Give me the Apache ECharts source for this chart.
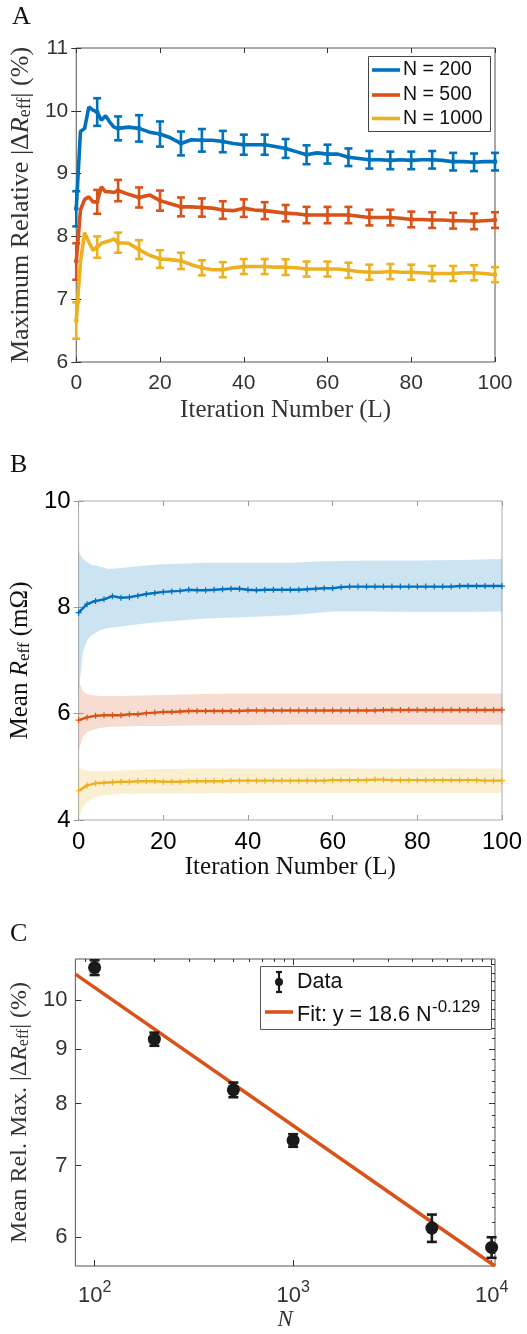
<!DOCTYPE html>
<html><head><meta charset="utf-8">
<script src="https://cdn.jsdelivr.net/npm/echarts@6/dist/echarts.min.js"></script>
<style>html,body{margin:0;padding:0;background:#fff}#c{width:527px;height:1334px}</style>
</head><body><div id="c"></div>
<script>
// ---------------- Panel A data ----------------
const L_A = [0,1,2,3,4,5,6,7,8,9,10,12.5,15,17.5,20,22.5,25,27.5,30,32.5,35,37.5,40,42.5,45,47.5,50,52.5,55,57.5,60,62.5,65,67.5,70,72.5,75,77.5,80,82.5,85,87.5,90,92.5,95,97.5,100];
const A_N200 = [8.44,9.67,9.72,10.06,10.01,9.98,9.85,9.92,9.82,9.74,9.72,9.74,9.72,9.66,9.63,9.57,9.48,9.54,9.53,9.53,9.51,9.48,9.46,9.46,9.46,9.43,9.40,9.35,9.30,9.33,9.31,9.31,9.26,9.24,9.22,9.22,9.21,9.22,9.21,9.22,9.22,9.21,9.19,9.19,9.18,9.19,9.19];
const A_N500 = [7.60,8.42,8.59,8.63,8.55,8.55,8.79,8.71,8.71,8.70,8.73,8.67,8.62,8.66,8.57,8.52,8.47,8.47,8.46,8.45,8.42,8.41,8.45,8.42,8.41,8.39,8.37,8.36,8.34,8.34,8.34,8.34,8.34,8.32,8.30,8.30,8.30,8.29,8.27,8.27,8.26,8.26,8.25,8.25,8.24,8.25,8.26];
const A_N1000 = [6.66,7.60,8.06,7.91,7.78,7.83,7.89,7.91,7.93,7.96,7.90,7.89,7.79,7.70,7.64,7.63,7.61,7.55,7.50,7.47,7.47,7.50,7.52,7.52,7.52,7.51,7.51,7.50,7.48,7.48,7.48,7.48,7.46,7.44,7.43,7.43,7.44,7.43,7.43,7.42,7.41,7.41,7.41,7.42,7.42,7.41,7.39];
const ERR_L_A = [0,5,10,15,20,25,30,35,40,45,50,55,60,65,70,75,80,85,90,95,100];
const E_N200 = [0.28,0.22,0.19,0.21,0.20,0.19,0.18,0.17,0.16,0.16,0.15,0.15,0.15,0.14,0.14,0.14,0.14,0.14,0.14,0.14,0.14];
const E_N500 = [0.29,0.19,0.17,0.16,0.16,0.15,0.145,0.14,0.14,0.135,0.13,0.13,0.13,0.13,0.125,0.125,0.125,0.125,0.125,0.125,0.125];
const E_N1000 = [0.29,0.17,0.16,0.15,0.14,0.13,0.12,0.12,0.12,0.12,0.125,0.12,0.12,0.12,0.12,0.12,0.12,0.12,0.12,0.12,0.12];
const A_NAMES = ['N = 200','N = 500','N = 1000'];

// ---------------- Panel B data ----------------
const L_B = [0,2,4,6,8,10,12,14,16,18,20,22,24,26,28,30,32,34,36,38,40,42,44,46,48,50,52,54,56,58,60,62,64,66,68,70,72,74,76,78,80,82,84,86,88,90,92,94,96,98,100];
const B_N200 = [7.90,8.06,8.12,8.15,8.21,8.18,8.19,8.22,8.25,8.27,8.29,8.30,8.31,8.33,8.32,8.32,8.33,8.34,8.35,8.35,8.33,8.32,8.33,8.33,8.33,8.33,8.33,8.34,8.35,8.36,8.36,8.38,8.39,8.39,8.39,8.39,8.39,8.39,8.39,8.39,8.39,8.39,8.39,8.39,8.39,8.40,8.40,8.40,8.40,8.40,8.40];
const B_N500 = [5.88,5.93,5.96,5.97,5.97,5.97,5.99,5.99,6.01,6.02,6.03,6.03,6.04,6.05,6.05,6.05,6.05,6.05,6.05,6.05,6.06,6.06,6.06,6.06,6.06,6.06,6.06,6.06,6.06,6.06,6.06,6.06,6.06,6.06,6.06,6.06,6.07,6.07,6.07,6.07,6.07,6.07,6.07,6.07,6.07,6.07,6.07,6.07,6.07,6.07,6.07];
const B_N1000 = [4.55,4.65,4.69,4.70,4.71,4.72,4.72,4.73,4.73,4.73,4.72,4.72,4.72,4.73,4.73,4.73,4.73,4.73,4.74,4.74,4.74,4.74,4.74,4.74,4.74,4.74,4.74,4.74,4.74,4.74,4.75,4.75,4.75,4.75,4.75,4.76,4.76,4.75,4.75,4.75,4.75,4.75,4.75,4.75,4.75,4.75,4.75,4.75,4.74,4.74,4.74];
const L_BAND = [0,1,2,3,5,7,10,15,20,30,40,50,60,70,80,90,100];
const B_N200_UP = [9.05,8.92,8.85,8.80,8.77,8.72,8.74,8.78,8.81,8.84,8.84,8.84,8.87,8.88,8.88,8.89,8.91];
const B_N200_LO = [6.40,7.15,7.38,7.47,7.57,7.61,7.64,7.69,7.73,7.79,7.82,7.85,7.92,7.92,7.91,7.91,7.92];
const B_N500_UP = [6.62,6.42,6.37,6.35,6.33,6.33,6.33,6.34,6.35,6.37,6.38,6.38,6.38,6.38,6.38,6.38,6.38];
const B_N500_LO = [5.30,5.57,5.65,5.69,5.73,5.75,5.76,5.77,5.77,5.78,5.78,5.79,5.79,5.79,5.79,5.79,5.79];
const B_N1000_UP = [5.00,4.95,4.93,4.92,4.92,4.92,4.93,4.95,4.96,4.97,4.97,4.97,4.97,4.97,4.97,4.97,4.97];
const B_N1000_LO = [4.05,4.24,4.33,4.39,4.45,4.47,4.49,4.50,4.50,4.50,4.51,4.51,4.51,4.51,4.51,4.51,4.51];

// ---------------- Panel C data ----------------
const C_N = [100,200,500,1000,5000,10000];
const C_MEAN = [10.72,9.19,8.24,7.39,6.12,5.87];
const C_ERR = [0.17,0.13,0.13,0.10,0.18,0.13];
const FIT_N = [80,10400];
const FIT_Y = [10.57,5.64];
const C_XMAJ = [100,1000,10000];
const C_XMIN = [90,200,300,400,500,600,700,800,900,2000,3000,4000,5000,6000,7000,8000,9000];
const C_YMAJ = [6,7,8,9,10];
const C_YMIN = [5.8,6.2,6.4,6.6,6.8,7.2,7.4,7.6,7.8,8.2,8.4,8.6,8.8,9.2,9.4,9.6,9.8,10.2,10.4,10.6,10.8];

// ---------------- styling ----------------
const COLORS = ['#0072BD','#D95319','#EDB120'];
const BAND_COLORS = ['rgba(0,114,189,0.2)','rgba(217,83,25,0.2)','rgba(237,177,32,0.2)'];
const SANS = 'Liberation Sans';
const SERIF = 'Liberation Serif';
const AXC = '#333';

function richName(size, color){
  return {
    fontFamily: SERIF, fontSize: size, color: color,
    rich: {
      t: {fontFamily: SERIF, fontSize: size, color: color},
      it: {fontFamily: SERIF, fontSize: size, fontStyle: 'italic', color: color},
      sub: {fontFamily: SERIF, fontSize: Math.round(size*0.68), color: color, verticalAlign: 'bottom'}
    }
  };
}

function valAxis(o){
  const base = {
    type: 'value', axisLine: {show: false}, splitLine: {show: false},
    axisTick: {show: true, inside: true, length: o.tickLen || 5, lineStyle: {color: o.tickColor || AXC, width: 1}},
    axisLabel: {show: !!o.labels, fontFamily: SANS, fontSize: o.fontSize || 21, color: o.labelColor || AXC, margin: o.margin || 10}
  };
  return Object.assign(base, o.extra || {});
}

function errRender(color, capHalf, lw, dotR){
  return function(params, api){
    const x = api.value(0), y = api.value(1), lo = api.value(2), hi = api.value(3);
    const p = api.coord([x, y]), a = api.coord([x, lo]), b = api.coord([x, hi]);
    const ch = [
      {type:'line', shape:{x1:a[0], y1:a[1], x2:b[0], y2:b[1]}, style:{stroke:color, lineWidth:lw}},
      {type:'line', shape:{x1:a[0]-capHalf, y1:a[1], x2:a[0]+capHalf, y2:a[1]}, style:{stroke:color, lineWidth:lw}},
      {type:'line', shape:{x1:b[0]-capHalf, y1:b[1], x2:b[0]+capHalf, y2:b[1]}, style:{stroke:color, lineWidth:lw}}
    ];
    if (dotR) ch.push({type:'circle', shape:{cx:p[0], cy:p[1], r:dotR}, style:{fill:color}});
    return {type:'group', children: ch};
  };
}

function bandRender(Ls, up, lo, color){
  return function(params, api){
    const pts = [];
    for (let i = 0; i < Ls.length; i++) pts.push(api.coord([Ls[i], up[i]]));
    for (let i = Ls.length - 1; i >= 0; i--) pts.push(api.coord([Ls[i], lo[i]]));
    return {type:'polygon', shape:{points: pts}, style:{fill: color}};
  };
}

const series = [];
// Panel A
const A_SETS = [A_N200, A_N500, A_N1000];
const A_ERRS = [E_N200, E_N500, E_N1000];
A_SETS.forEach(function(vals, k){
  series.push({type:'line', name:A_NAMES[k], xAxisIndex:0, yAxisIndex:0, data: L_A.map(function(L,i){return [L, vals[i]];}),
    showSymbol:false, lineStyle:{color:COLORS[k], width:3.6}, itemStyle:{color:COLORS[k]}, z: 3 + k});
  const ed = ERR_L_A.map(function(L, i){ const v = vals[L_A.indexOf(L)]; return [L, v, v - A_ERRS[k][i], v + A_ERRS[k][i]]; });
  series.push({type:'custom', xAxisIndex:0, yAxisIndex:0, data: ed, encode:{x:0, y:[1,2,3]}, renderItem: errRender(COLORS[k], 4, 2.6, 2.4), z: 3 + k});
});
// Panel B
const B_SETS = [B_N200, B_N500, B_N1000];
const B_UPS = [B_N200_UP, B_N500_UP, B_N1000_UP];
const B_LOS = [B_N200_LO, B_N500_LO, B_N1000_LO];
B_SETS.forEach(function(vals, k){
  series.push({type:'custom', xAxisIndex:2, yAxisIndex:2, data:[[L_BAND[0], B_UPS[k][0]]], encode:{x:0,y:1},
    renderItem: bandRender(L_BAND, B_UPS[k], B_LOS[k], BAND_COLORS[k]), z: 1, silent: true});
});
B_SETS.forEach(function(vals, k){
  series.push({type:'line', xAxisIndex:2, yAxisIndex:2, data: L_B.map(function(L,i){return [L, vals[i]];}),
    symbol:'path://M4,0h2v10h-2z M0,4h10v2h-10z', symbolSize:6, showSymbol:true,
    lineStyle:{color:COLORS[k], width:2.4}, itemStyle:{color:COLORS[k]}, z: 4});
});
// Panel C
series.push({type:'line', xAxisIndex:4, yAxisIndex:4, data: FIT_N.map(function(n,i){return [n, FIT_Y[i]];}),
  showSymbol:false, lineStyle:{color:COLORS[1], width:3.6}, z: 3, clip: true});
series.push({type:'custom', xAxisIndex:4, yAxisIndex:4, data: C_N.map(function(n,i){return [n, C_MEAN[i], C_MEAN[i]-C_ERR[i], C_MEAN[i]+C_ERR[i]];}),
  encode:{x:0, y:[1,2,3]}, renderItem: errRender('#1a1a1a', 5, 2.6, 0), z: 4});
series.push({type:'scatter', xAxisIndex:4, yAxisIndex:4, data: C_N.map(function(n,i){return [n, C_MEAN[i]];}),
  symbol:'circle', symbolSize:13, itemStyle:{color:'#1a1a1a', opacity:1}, z: 5});

const xFmtPow = function(v){ return '{b|10}{s|' + Math.round(Math.log10(v)) + '}'; };

const option = {
  animation: false,
  backgroundColor: '#fff',
  grid: [
    {left:74, top:48, width:421, height:314, show:true, borderColor:'#555', borderWidth:1},
    {left:73, top:501, width:429, height:319, show:true, borderColor:'#aaa', borderWidth:1},
    {left:73, top:959, width:422, height:307, show:true, borderColor:'#555', borderWidth:1}
  ],
  xAxis: [
    valAxis({labels:true, fontSize:21, margin:11, extra:{gridIndex:0, min:0, max:100, interval:20,
      name:'Iteration Number (L)', nameLocation:'middle', nameGap:36, nameTextStyle:{fontFamily:SERIF, fontSize:25, color:AXC}}}),
    valAxis({labels:false, extra:{gridIndex:0, position:'top', min:0, max:100, interval:20}}),
    valAxis({labels:true, fontSize:24, margin:10, labelColor:'#000', tickColor:'#999', extra:{gridIndex:1, min:0, max:100, interval:20,
      name:'Iteration Number (L)', nameLocation:'middle', nameGap:33, nameTextStyle:{fontFamily:SERIF, fontSize:25, color:'#111'}}}),
    valAxis({labels:false, tickColor:'#999', extra:{gridIndex:1, position:'top', min:0, max:100, interval:20}}),
    {type:'log', gridIndex:2, min:80, max:10400, axisLine:{show:false}, splitLine:{show:false}, minorTick:{show:false},
      axisTick:{show:true, inside:true, length:6, customValues:C_XMAJ, lineStyle:{color:AXC}},
      axisLabel:{show:true, customValues:C_XMAJ, margin:14, formatter:xFmtPow,
        rich:{b:{fontFamily:SANS, fontSize:22, color:AXC, padding:[5,0,0,0], verticalAlign:'bottom'}, s:{fontFamily:SANS, fontSize:16, color:AXC, verticalAlign:'top'}}},
      name:'{it|N}', nameLocation:'middle', nameGap:42, nameTextStyle: richName(23, AXC)},
    {type:'log', gridIndex:2, min:80, max:10400, axisLine:{show:false}, splitLine:{show:false},
      axisTick:{show:true, inside:true, length:3, customValues:C_XMIN, lineStyle:{color:AXC}}, axisLabel:{show:false}},
    {type:'log', gridIndex:2, position:'top', min:80, max:10400, axisLine:{show:false}, splitLine:{show:false},
      axisTick:{show:true, inside:true, length:6, customValues:C_XMAJ, lineStyle:{color:AXC}}, axisLabel:{show:false}},
    {type:'log', gridIndex:2, position:'top', min:80, max:10400, axisLine:{show:false}, splitLine:{show:false},
      axisTick:{show:true, inside:true, length:3, customValues:C_XMIN, lineStyle:{color:AXC}}, axisLabel:{show:false}}
  ],
  yAxis: [
    valAxis({labels:true, fontSize:21, margin:8, extra:{gridIndex:0, min:6, max:11, interval:1,
      name:'{t|Maximum Relative |Δ}{it|R}{sub|eff}{t|| (%)}', nameLocation:'middle', nameGap:37, nameRotate:90, nameTextStyle: richName(26, AXC)}}),
    valAxis({labels:false, extra:{gridIndex:0, position:'right', min:6, max:11, interval:1}}),
    valAxis({labels:true, fontSize:24, margin:8, labelColor:'#000', tickColor:'#999', extra:{gridIndex:1, min:4, max:10, interval:2,
      name:'{t|Mean }{it|R}{sub|eff}{t| (mΩ)}', nameLocation:'middle', nameGap:36, nameRotate:90, nameTextStyle: richName(25, '#111')}}),
    valAxis({labels:false, tickColor:'#999', extra:{gridIndex:1, position:'right', min:4, max:10, interval:2}}),
    {type:'log', gridIndex:2, min:5.64, max:10.92, axisLine:{show:false}, splitLine:{show:false}, minorTick:{show:false},
      axisTick:{show:true, inside:true, length:6, customValues:C_YMAJ, lineStyle:{color:AXC}},
      axisLabel:{show:true, customValues:C_YMAJ, margin:8, fontFamily:SANS, fontSize:22, color:AXC},
      name:'{t|Mean Rel. Max. |Δ}{it|R}{sub|eff}{t|| (%)}', nameLocation:'middle', nameGap:36, nameRotate:90, nameTextStyle: richName(24, AXC)},
    {type:'log', gridIndex:2, min:5.64, max:10.92, axisLine:{show:false}, splitLine:{show:false},
      axisTick:{show:true, inside:true, length:3, customValues:C_YMIN, lineStyle:{color:AXC}}, axisLabel:{show:false}},
    {type:'log', gridIndex:2, position:'right', min:5.64, max:10.92, axisLine:{show:false}, splitLine:{show:false},
      axisTick:{show:true, inside:true, length:6, customValues:C_YMAJ, lineStyle:{color:AXC}}, axisLabel:{show:false}},
    {type:'log', gridIndex:2, position:'right', min:5.64, max:10.92, axisLine:{show:false}, splitLine:{show:false},
      axisTick:{show:true, inside:true, length:3, customValues:C_YMIN, lineStyle:{color:AXC}}, axisLabel:{show:false}}
  ],
  series: series,
  graphic: [
    {type:'text', left:12, top:4, style:{text:'A', font:'26px "Liberation Serif"', fill:'#111'}},
    {type:'text', left:10, top:452, style:{text:'B', font:'26px "Liberation Serif"', fill:'#111'}},
    {type:'text', left:10, top:921, style:{text:'C', font:'26px "Liberation Serif"', fill:'#111'}},
    // legend A
    {type:'rect', shape:{x:368.5, y:56.5, width:122, height:75}, style:{fill:'#fff', stroke:'#444', lineWidth:1}, z:50},
    {type:'line', shape:{x1:372, y1:70, x2:400, y2:70}, style:{stroke:COLORS[0], lineWidth:3.6}, z:51},
    {type:'line', shape:{x1:372, y1:95, x2:400, y2:95}, style:{stroke:COLORS[1], lineWidth:3.6}, z:51},
    {type:'line', shape:{x1:372, y1:118.5, x2:400, y2:118.5}, style:{stroke:COLORS[2], lineWidth:3.6}, z:51},
    {type:'text', x:403, y:70, style:{text:A_NAMES[0], font:'19.5px "Liberation Sans"', fill:'#111', verticalAlign:'middle'}, z:51},
    {type:'text', x:403, y:95, style:{text:A_NAMES[1], font:'19.5px "Liberation Sans"', fill:'#111', verticalAlign:'middle'}, z:51},
    {type:'text', x:403, y:118.5, style:{text:A_NAMES[2], font:'19.5px "Liberation Sans"', fill:'#111', verticalAlign:'middle'}, z:51},
    // legend C
    {type:'rect', shape:{x:260.5, y:966.5, width:231, height:63}, style:{fill:'#fff', stroke:'#555', lineWidth:1}, z:50},
    {type:'line', shape:{x1:279, y1:972, x2:279, y2:992}, style:{stroke:'#1a1a1a', lineWidth:2.2}, z:51},
    {type:'line', shape:{x1:276, y1:972, x2:282, y2:972}, style:{stroke:'#1a1a1a', lineWidth:2.2}, z:51},
    {type:'line', shape:{x1:276, y1:992, x2:282, y2:992}, style:{stroke:'#1a1a1a', lineWidth:2.2}, z:51},
    {type:'circle', shape:{cx:279, cy:982, r:4}, style:{fill:'#1a1a1a'}, z:51},
    {type:'text', x:297, y:982.5, style:{text:'Data', font:'21.5px "Liberation Sans"', fill:'#111', verticalAlign:'middle'}, z:51},
    {type:'line', shape:{x1:265, y1:1012, x2:293, y2:1012}, style:{stroke:COLORS[1], lineWidth:3.6}, z:51},
    {type:'text', x:297, y:1015.5, style:{text:'Fit: y = 18.6 N', font:'21.5px "Liberation Sans"', fill:'#111', verticalAlign:'middle'}, z:51},
    {type:'text', x:432, y:1007.5, style:{text:'-0.129', font:'17px "Liberation Sans"', fill:'#111', verticalAlign:'middle'}, z:51}
  ]
};

const chart = echarts.init(document.getElementById('c'), null, {renderer:'canvas'});
chart.setOption(option);
</script></body></html>
